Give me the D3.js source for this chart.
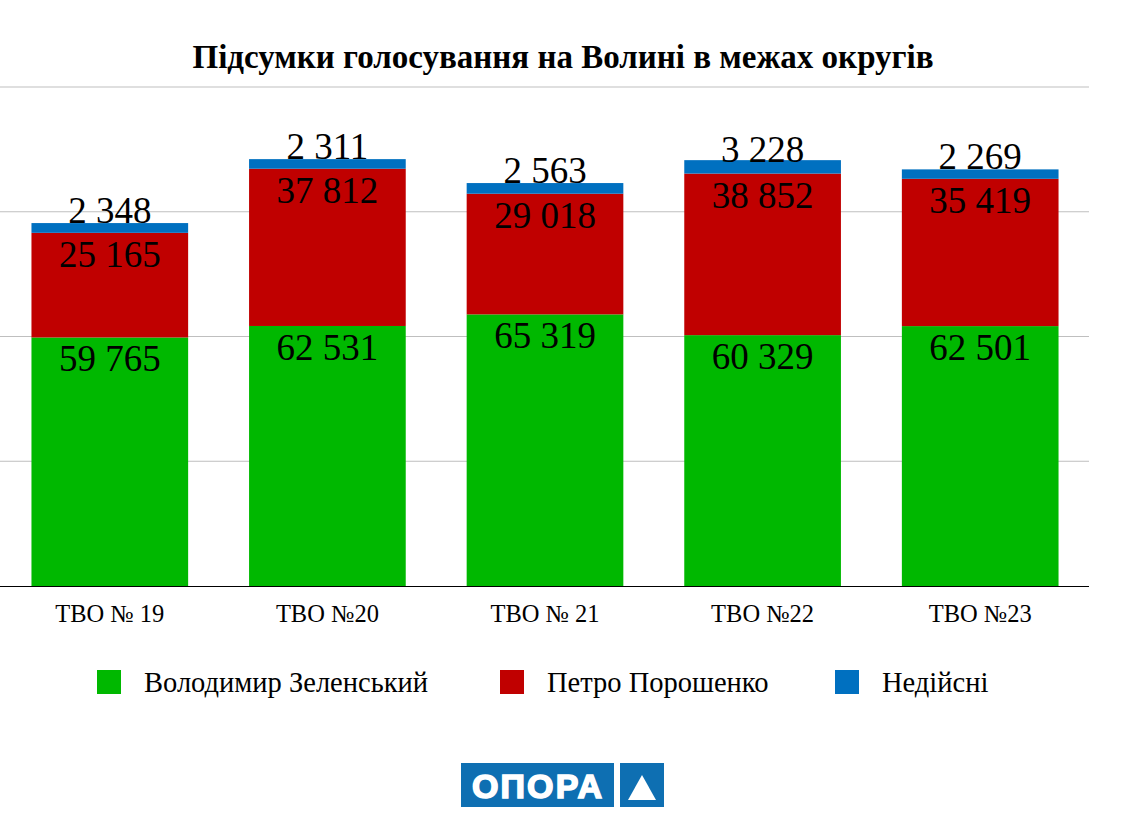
<!DOCTYPE html>
<html>
<head>
<meta charset="utf-8">
<script src="https://cdn.jsdelivr.net/npm/d3@7"></script>
<style>
  body { margin: 0; background: #fff; }
</style>
</head>
<body>
<div id="chart"></div>
<script>
// data
var districts = ["ТВО № 19", "ТВО №20", "ТВО № 21", "ТВО №22", "ТВО №23"]
var zelensky = [59765, 62531, 65319, 60329, 62501]
var poroshenko = [25165, 37812, 29018, 38852, 35419]
var invalid = [2348, 2311, 2563, 3228, 2269]
var seriesNames = ["Володимир Зеленський", "Петро Порошенко", "Недійсні"]
var colors = ["#00b800", "#c00000", "#0070c0"]
var yTicks = [0, 30000, 60000, 90000, 120000]

var width = 1127, height = 835
var serif = "'Liberation Serif', 'Times New Roman', serif"

var svg = d3.select("#chart").append("svg")
	.attr("width", width)
	.attr("height", height)

var x = d3.scaleBand()
	.domain(districts)
	.range([1, 1089])
	.paddingInner(0.28)
	.paddingOuter(0.14)

var y = d3.scaleLinear()
	.domain([0, 120000])
	.range([586, 87])

// title
svg.append("text")
	.attr("x", 563)
	.attr("y", 68)
	.attr("text-anchor", "middle")
	.style("font-family", serif)
	.style("font-size", "33px")
	.style("font-weight", "bold")
	.text("Підсумки голосування на Волині в межах округів")

// gridlines
svg.append("g").selectAll("line")
	.data(yTicks.slice(1))
	.enter().append("line")
	.attr("x1", 0).attr("x2", 1089)
	.attr("y1", function(d){ return y(d) })
	.attr("y2", function(d){ return y(d) })
	.attr("stroke", "#bfbfbf")
	.attr("stroke-width", 1)

var rows = districts.map(function(d, i){
	return { district: d, z: zelensky[i], p: poroshenko[i], n: invalid[i] }
})
var stack = d3.stack().keys(["z", "p", "n"])
var layers = stack(rows)

var fmt = function(v){ return d3.format(",")(v).replace(/,/g, " ") }

var g = svg.append("g")
layers.forEach(function(layer, li){
	g.append("g").selectAll("rect")
		.data(layer)
		.enter().append("rect")
		.attr("x", function(d){ return x(d.data.district) })
		.attr("width", x.bandwidth())
		.attr("y", function(d){ return y(d[1]) })
		.attr("height", function(d){ return y(d[0]) - y(d[1]) })
		.attr("fill", colors[li])
})

// value labels
layers.forEach(function(layer, li){
	g.append("g").selectAll("text")
		.data(layer)
		.enter().append("text")
		.attr("x", function(d){ return x(d.data.district) + x.bandwidth() / 2 })
		.attr("y", function(d){
			if (li == 2) return (y(d[1]) + y(d[0])) / 2 - 5
			return y(d[1]) + 34
		})
		.attr("text-anchor", "middle")
		.style("font-family", serif)
		.style("font-size", "37px")
		.attr("fill", "#000")
		.text(function(d){ return fmt(d[1] - d[0]) })
})

// baseline axis
var xAxis = svg.append("g")
	.attr("transform", "translate(0," + y(0) + ")")
	.call(d3.axisBottom(x).tickSize(0).tickPadding(19))
xAxis.select(".domain").attr("d", "M0,0.5H1089").attr("stroke", "#000")
xAxis.selectAll("text")
	.style("font-family", serif)
	.style("font-size", "24.5px")
	.attr("fill", "#000")

// legend
var legendX = [97, 500, 835]
var legend = svg.append("g").selectAll("g")
	.data(seriesNames)
	.enter().append("g")
	.attr("transform", function(d, i){ return "translate(" + legendX[i] + ",670)" })
legend.append("rect")
	.attr("width", 24).attr("height", 24)
	.attr("fill", function(d, i){ return colors[i] })
legend.append("text")
	.attr("x", 47).attr("y", 22)
	.style("font-family", serif)
	.style("font-size", "28.5px")
	.text(function(d){ return d })

// logo
var logo = svg.append("g").attr("transform", "translate(461,763)")
logo.append("rect").attr("width", 153).attr("height", 44).attr("fill", "#0e6fb2")
logo.append("rect").attr("x", 159).attr("width", 44).attr("height", 44).attr("fill", "#0e6fb2")
logo.append("text")
	.attr("x", 76).attr("y", 35)
	.attr("text-anchor", "middle")
	.style("font-family", "'Liberation Sans', Arial, sans-serif")
	.style("font-weight", "bold")
	.style("font-size", "34px")
	.attr("fill", "#fff")
	.attr("stroke", "#fff").attr("stroke-width", 1.6)
	.attr("textLength", 130)
	.text("ОПОРА")
logo.append("path")
	.attr("d", "M181,12 L195,37 L167,37 Z")
	.attr("fill", "#fff")
</script>
</body>
</html>
